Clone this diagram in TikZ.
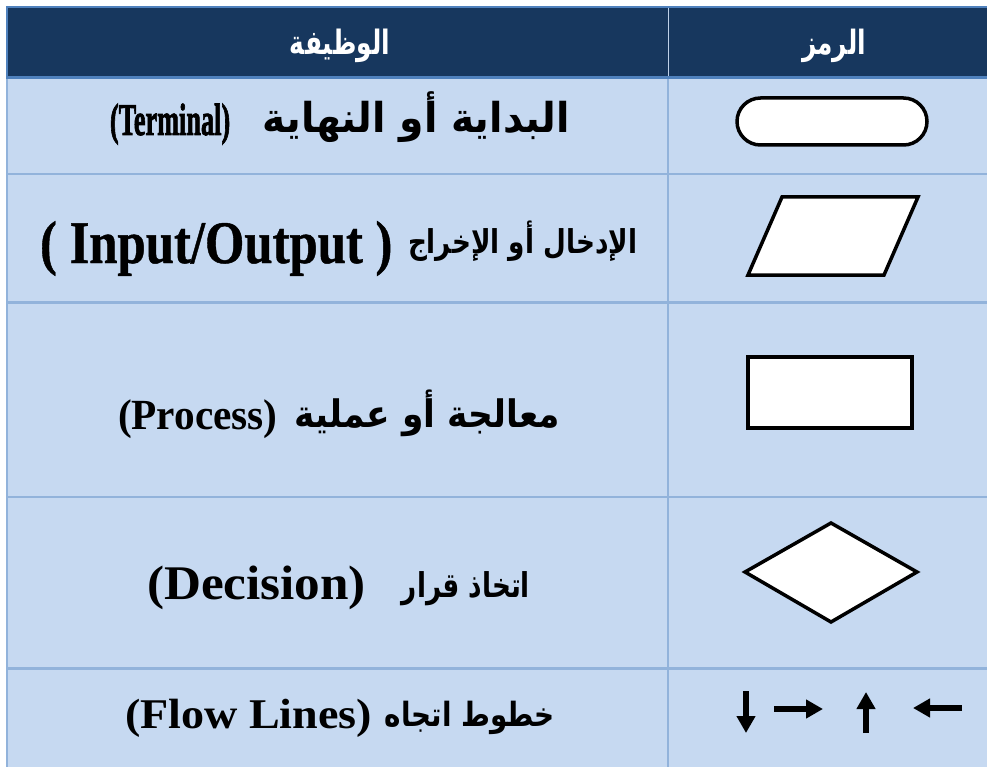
\documentclass[tikz,border=0pt]{standalone}
\usepackage{fontspec}
\setmainfont{Liberation Serif}
\newfontface\fatserifA{Liberation Serif Bold}[FakeBold=2.2]
\newfontface\fatserifB{Liberation Serif Bold}[FakeBold=0.8]
\newfontfamily\arabicfont[Script=Arabic]{DejaVu Sans}
\usetikzlibrary{arrows.meta}
\TeXXeTstate=1
\definecolor{navy}{RGB}{23,55,94}
\definecolor{cellblue}{RGB}{198,217,241}
\definecolor{gridblue}{RGB}{146,179,219}
\definecolor{headline}{RGB}{79,129,189}
\newcommand{\latchunk}[3]{\scalebox{#2}[1]{\fontsize{#1}{#1}\selectfont\bfseries #3}}
\newcommand{\arbchunk}[3]{\scalebox{1}[#2]{\resizebox{#1}{!}{\arabicfont\bfseries #3}}}
\tikzset{
  txt/.style={inner sep=0pt, outer sep=0pt},
  symb/.style={draw=black, fill=white, line width=3.5pt, line join=miter},
  flow/.style={line width=6pt, -{Triangle[length=17pt,width=18pt]}},
  grid/.style={draw=gridblue, line width=2.5pt}
}
\begin{document}
\begin{tikzpicture}[x=1pt,y=-1pt]
\useasboundingbox (0,0) rectangle (987,767);
\fill[white] (0,0) rectangle (987,767);
% body and header
\fill[cellblue] (7,78) rectangle (990,770);
\fill[navy] (7,7) rectangle (990,78);
% grid lines
\draw[grid] (7,174) -- (990,174);
\draw[grid] (7,302.5) -- (990,302.5);
\draw[grid] (7,497) -- (990,497);
\draw[grid] (7,668.5) -- (990,668.5);
\draw[grid] (668,78) -- (668,770);
\draw[grid] (7,78) -- (7,770);
\draw[draw=headline, line width=2pt] (6,7) -- (990,7);
\draw[draw=headline, line width=2pt] (7,6) -- (7,79);
\draw[draw=gridblue!60!white, line width=1pt] (668,8) -- (668,77);
\draw[draw=headline, line width=3pt] (6,78) -- (990,78);
% header text
\node[txt, text=white, anchor=base] (hfun) at (340,55) {\arbchunk{100pt}{1.35}{\beginR الوظيفة\endR}};
\node[txt, text=white, anchor=base] (hsym) at (834,55) {\arbchunk{64pt}{1.35}{\beginR الرمز\endR}};
% row 1
\node[txt, anchor=base west] (t1l) at (110,135) {\latchunk{45.3}{0.58}{\fatserifA (Terminal)}};
\node[txt, anchor=base east] (t1a) at (570,133) {\arbchunk{307pt}{1.05}{\beginR البداية أو النهاية\endR}};
% row 2
\node[txt, anchor=base west] (t2l) at (40,263) {\latchunk{60.4}{0.84}{\fatserifB ( Input/Output )}};
\node[txt, anchor=base east] (t2a) at (637,254) {\arbchunk{229pt}{1.25}{\beginR الإدخال أو الإخراج\endR}};
% row 3
\node[txt, anchor=base west] (t3l) at (118,429) {\latchunk{43}{0.96}{(Process)}};
\node[txt, anchor=base east] (t3a) at (560,427) {\arbchunk{265pt}{1.1}{\beginR معالجة أو عملية\endR}};
% row 4
\node[txt, anchor=base west] (t4l) at (147,599) {\latchunk{48.3}{1.06}{(Decision)}};
\node[txt, anchor=base east] (t4a) at (530,597) {\arbchunk{128pt}{1.3}{\beginR اتخاذ قرار\endR}};
% row 5
\node[txt, anchor=base west] (t5l) at (125,728) {\latchunk{42.3}{1.09}{(Flow Lines)}};
\node[txt, anchor=base east] (t5a) at (555,726) {\arbchunk{170pt}{1.2}{\beginR خطوط اتجاه\endR}};
% symbols
\draw[symb, rounded corners=23.5pt] (737,98) rectangle (927,145);
\draw[symb] (782,197) -- (918,197) -- (884,275) -- (748,275) -- cycle;
\draw[symb] (748,357) rectangle (912,428);
\draw[symb] (745,572) -- (831,523) -- (917,572) -- (831,622) -- cycle;
% flow lines
\coordinate (d1) at (746,691); \coordinate (d2) at (746,733);
\coordinate (r1) at (774,709); \coordinate (r2) at (823,709);
\coordinate (u1) at (866,733); \coordinate (u2) at (866,692);
\coordinate (l1) at (962,708); \coordinate (l2) at (913,708);
\draw[flow] (d1) -- (d2);
\draw[flow] (r1) -- (r2);
\draw[flow] (u1) -- (u2);
\draw[flow] (l1) -- (l2);
\end{tikzpicture}
\end{document}
